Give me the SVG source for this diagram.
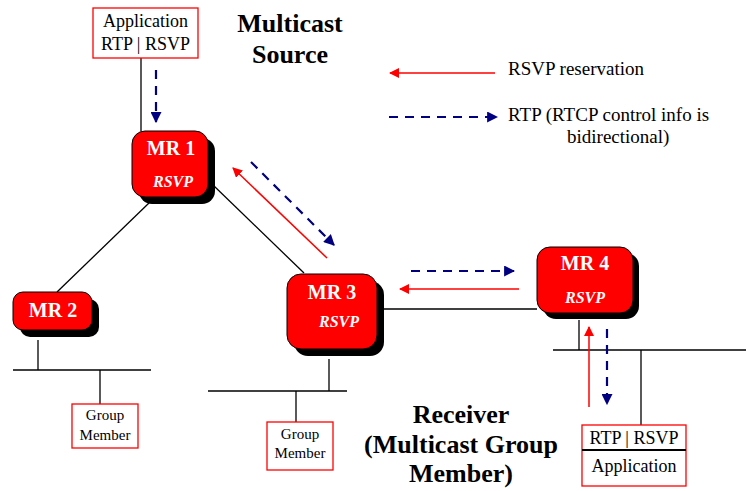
<svg xmlns="http://www.w3.org/2000/svg" width="746" height="491" viewBox="0 0 746 491">
<style>
.ln{stroke:#000;stroke-width:1.3;fill:none}
.red{stroke:#ff0000;stroke-width:1.5;fill:none}
.blue{stroke:#000080;stroke-width:2.2;fill:none;stroke-dasharray:9,7}
.box{fill:#fff;stroke:#ff0000;stroke-width:1.3}
.t{font-family:"Liberation Serif","Times New Roman",serif;fill:#000}
.mr{font-family:"Liberation Serif","Times New Roman",serif;fill:#fff;font-weight:bold;font-size:20px;text-anchor:middle}
.rs{font-family:"Liberation Serif","Times New Roman",serif;fill:#fff;font-weight:bold;font-style:italic;font-size:16px;text-anchor:middle}
.sh{fill:#000}
.rr{fill:#ff0000;stroke:#000;stroke-width:1}
.ttl{font-family:"Liberation Serif","Times New Roman",serif;font-weight:bold;font-size:26px;text-anchor:middle;fill:#000}
</style>
<defs>
<marker id="ar" viewBox="0 0 10 10" refX="9" refY="5" markerWidth="10" markerHeight="10" markerUnits="userSpaceOnUse" orient="auto"><path d="M0,0 L10,5 L0,10 z" fill="#ff0000"/></marker>
<marker id="ab" viewBox="0 0 10 10" refX="9" refY="5" markerWidth="11" markerHeight="11" markerUnits="userSpaceOnUse" orient="auto"><path d="M0,0 L10,5 L0,10 z" fill="#000080"/></marker>
</defs>
<rect width="746" height="491" fill="#fff"/>
<g id="connectors">
<line class="ln" x1="141" y1="58" x2="141" y2="131"/>
<line class="ln" x1="149" y1="203" x2="57" y2="292"/>
<line class="ln" x1="213" y1="185" x2="304" y2="273"/>
<line class="ln" x1="384" y1="309" x2="537" y2="309"/>
<line class="ln" x1="38" y1="340" x2="38" y2="370"/>
<line class="ln" x1="13" y1="370" x2="151" y2="370"/>
<line class="ln" x1="100" y1="370" x2="100" y2="404"/>
<line class="ln" x1="329" y1="359" x2="329" y2="391"/>
<line class="ln" x1="208" y1="391" x2="347" y2="391"/>
<line class="ln" x1="296" y1="391" x2="296" y2="422"/>
<line class="ln" x1="579" y1="320" x2="579" y2="350"/>
<line class="ln" x1="553" y1="350" x2="746" y2="350"/>
<line class="ln" x1="641" y1="350" x2="641" y2="425"/>
<line class="blue" x1="156" y1="70" x2="156" y2="122" marker-end="url(#ab)"/>
<line class="red" x1="327" y1="258" x2="233" y2="168" marker-end="url(#ar)"/>
<line class="blue" x1="251" y1="162" x2="334" y2="245" marker-end="url(#ab)"/>
<line class="blue" x1="411" y1="271" x2="514" y2="271" marker-end="url(#ab)"/>
<line class="red" x1="519" y1="289" x2="400" y2="289" marker-end="url(#ar)"/>
<line class="red" x1="589" y1="407" x2="589" y2="327" marker-end="url(#ar)"/>
<line class="blue" x1="607" y1="329" x2="607" y2="404" marker-end="url(#ab)"/>
<line class="red" x1="495" y1="73" x2="390" y2="73" marker-end="url(#ar)"/>
<line class="blue" x1="389" y1="117" x2="497" y2="117" marker-end="url(#ab)"/>
</g>
<g id="app-source">
<rect class="box" x="93" y="8" width="105" height="50"/>
<text class="t" x="145.5" y="27" font-size="18" text-anchor="middle">Application</text>
<text class="t" x="145.5" y="50" font-size="18" text-anchor="middle">RTP | RSVP</text>
</g>
<g id="mr1">
<rect class="sh" x="139" y="138" width="76" height="66" rx="13"/>
<rect class="rr" x="132" y="131" width="76" height="66" rx="13"/>
<text class="mr" x="171" y="155">MR 1</text>
<text class="rs" x="173" y="187">RSVP</text>
</g>
<g id="mr2">
<rect class="sh" x="20" y="299" width="79" height="38" rx="10"/>
<rect class="rr" x="13" y="292" width="79" height="38" rx="10"/>
<text class="mr" x="53" y="317">MR 2</text>
</g>
<g id="mr3">
<rect class="sh" x="294" y="281" width="90" height="75" rx="14"/>
<rect class="rr" x="287" y="274" width="90" height="75" rx="14"/>
<text class="mr" x="332" y="299">MR 3</text>
<text class="rs" x="339" y="327">RSVP</text>
</g>
<g id="mr4">
<rect class="sh" x="543" y="253" width="96" height="66" rx="13"/>
<rect class="rr" x="537" y="247" width="96" height="66" rx="13"/>
<text class="mr" x="585" y="270">MR 4</text>
<text class="rs" x="585" y="303">RSVP</text>
</g>
<g id="group-member-1">
<rect class="box" x="72" y="404" width="66" height="44"/>
<text class="t" x="105" y="420" font-size="15" text-anchor="middle">Group</text>
<text class="t" x="105" y="440" font-size="15" text-anchor="middle">Member</text>
</g>
<g id="group-member-2">
<rect class="box" x="267" y="422" width="66" height="48"/>
<text class="t" x="300" y="439" font-size="15" text-anchor="middle">Group</text>
<text class="t" x="300" y="458" font-size="15" text-anchor="middle">Member</text>
</g>
<g id="app-receiver">
<rect class="box" x="582" y="425" width="104" height="61"/>
<line x1="582" y1="450" x2="686" y2="450" stroke="#000" stroke-width="2"/>
<text class="t" x="634" y="444" font-size="18" text-anchor="middle">RTP | RSVP</text>
<text class="t" x="634" y="472" font-size="18" text-anchor="middle">Application</text>
</g>
<g id="titles">
<text class="ttl" x="290" y="32">Multicast</text>
<text class="ttl" x="290" y="63">Source</text>
<text class="ttl" x="461" y="423">Receiver</text>
<text class="ttl" x="461" y="453">(Multicast Group</text>
<text class="ttl" x="461" y="482">Member)</text>
</g>
<g id="legend">
<text class="t" x="508" y="75" font-size="19">RSVP reservation</text>
<text class="t" x="508" y="121" font-size="19">RTP (RTCP control info is</text>
<text class="t" x="567" y="143" font-size="19">bidirectional)</text>
</g>
</svg>
